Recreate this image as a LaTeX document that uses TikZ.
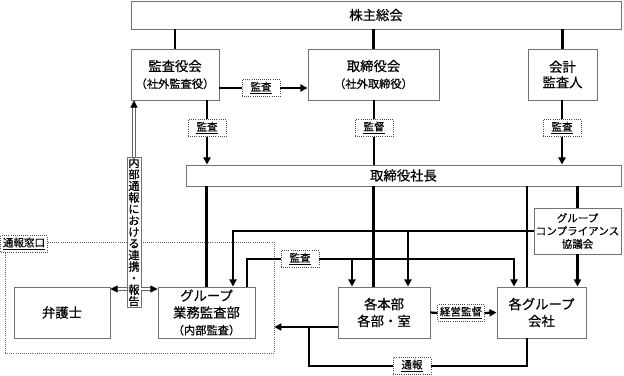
\documentclass[tikz,border=0pt]{standalone}
\usepackage{fontspec}
\newfontfamily\jp[FakeBold=0.4]{Noto Sans CJK JP}
\usetikzlibrary{arrows.meta, calc}
\newcommand{\px}{0.025cm}
\newcommand{\subtxt}{\fontsize{8}{10}\selectfont}
\tikzset{
  box/.style={draw=black!55, line width=0.7pt, fill=white, inner sep=0pt, align=center,
    font=\jp\fontsize{9.5}{12}\selectfont},
  tag/.style={draw=black!70, densely dotted, line width=0.5pt, fill=white, inner xsep=1.5pt,
    inner ysep=1.5pt, minimum width=27pt, font=\jp\fontsize{7.5}{9}\selectfont},
  link/.style={line width=1.6pt},
  arr/.style={link, -{Triangle[length=5pt,width=5pt]}},
  dbl/.style={draw=black!60, double=white, double distance=1.6pt, line width=0.5pt},
  dtip/.style={line width=0.4pt, -{Triangle[length=5pt,width=5pt]}},
}

\begin{document}
\begin{tikzpicture}[x=\px, y=-\px]
  \useasboundingbox (0,0) rectangle (624,375);

  % Reporting desk
  \node[draw=black!60, densely dotted, line width=0.5pt, inner sep=0pt,
    minimum width=269*\px, minimum height=111*\px] (madoguchi) at (139.5,297.5) {};
  \node[tag] (t8) at (24,244) {\underline{通報窓口}};

  % Boxes
  \node[box, minimum width=490*\px, minimum height=28*\px] (soukai) at (376,15) {株主総会};
  \node[box, minimum width=88*\px, minimum height=51*\px] (kansayaku) at (175,74.5) {監査役会\\\subtxt （社外監査役）};
  \node[box, minimum width=131*\px, minimum height=51*\px] (torishimari) at (373.5,74.5) {取締役会\\\subtxt （社外取締役）};
  \node[box, minimum width=69*\px, minimum height=51*\px, font=\jp\fontsize{9.5}{11}\selectfont] (kaikei) at (562.5,74.5) {会計\\監査人};
  \node[box, minimum width=435*\px, minimum height=21*\px] (shacho) at (403.5,175.5) {取締役社長};
  \node[box, minimum width=87*\px, minimum height=46*\px, font=\jp\fontsize{7.5}{9.2}\selectfont] (compliance) at (577.5,231) {グループ\\コンプライアンス\\協議会};
  \node[box, minimum width=97*\px, minimum height=51*\px] (gyomu) at (206.5,312.5) {グループ\\業務監査部\\\subtxt （内部監査）};
  \node[box, minimum width=96*\px, minimum height=51*\px] (bengoshi) at (62,312.5) {弁護士};
  \node[box, minimum width=92*\px, minimum height=51*\px] (honbu) at (384,312.5) {各本部\\各部・室};
  \node[box, minimum width=89*\px, minimum height=51*\px] (group) at (541.5,312.5) {各グループ\\会社};
  \node[box, minimum width=14*\px, minimum height=150*\px, font=\jp\fontsize{8}{8.2}\selectfont] (naibu) at (134,232)
    {内\\部\\通\\報\\に\\お\\け\\る\\連\\携\\・\\報\\告};

  % Labels
  \node[tag] (t1) at (261,88) {\underline{監査}};
  \node[tag] (t2) at (207,128) {\underline{監査}};
  \node[tag] (t3) at (374,128) {\underline{監督}};
  \node[tag] (t4) at (562,128) {\underline{監査}};
  \node[tag] (t5) at (300,259) {\underline{監査}};
  \node[tag] (t6) at (461,313) {\underline{経営監督}};
  \node[tag] (t7) at (412,366) {\underline{通報}};

  % From the general meeting
  \draw[link] (soukai.south -| kansayaku) -- (kansayaku.north);
  \draw[link] (soukai.south -| torishimari) -- (torishimari.north);
  \draw[link] (soukai.south -| kaikei) -- (kaikei.north);

  % Audit and supervision
  \draw[link] (kansayaku.east |- t1) -- (t1.west);
  \draw[arr] (t1.east) -- (torishimari.west |- t1);
  \draw[link] (kansayaku.south -| t2) -- (t2.north);
  \draw[arr] (t2.south) -- (shacho.north -| t2);
  \draw[link] (torishimari.south -| t3) -- (t3.north);
  \draw[link] (t3.south) -- (shacho.north -| t3);
  \draw[link] (kaikei.south -| t4) -- (t4.north);
  \draw[arr] (t4.south) -- (shacho.north -| t4);

  % From the president
  \coordinate (gx) at (527,0);
  \draw[link] (shacho.south -| gyomu) -- (gyomu.north);
  \draw[link] (shacho.south -| torishimari) -- (honbu.north -| torishimari);
  \draw[link] (shacho.south -| gx) -- (group.north -| gx);
  \draw[link] (shacho.south -| compliance) -- (compliance.north);
  \draw[arr] (compliance.south) -- (group.north -| compliance);

  % Compliance council
  \coordinate (ca) at (233,231);
  \coordinate (cb) at (408,231);
  \draw[arr] (compliance.west) -- (ca) -- (gyomu.north -| ca);
  \draw[arr] (cb) -- (honbu.north -| cb);

  % Internal audit
  \coordinate (ga) at (247,259);
  \coordinate (gb) at (514,259);
  \coordinate (gc) at (352,259);
  \draw[link] (gyomu.north -| ga) -- (ga) -- (t5.west);
  \draw[arr] (t5.east) -- (gb) -- (group.north -| gb);
  \draw[arr] (gc) -- (honbu.north -| gc);

  % Management supervision
  \draw[link] (honbu.east) -- (t6.west);
  \draw[arr] (t6.east) -- (group.west);

  % Reports
  \coordinate (tj) at (309,327);
  \draw[arr] (honbu.west |- tj) -- (madoguchi.east |- tj);
  \draw[link] (group.south -| gx) -- (gx |- t7) -- (t7.east);
  \draw[link] (t7.west) -- (tj |- t7) -- (tj);

  % Whistleblowing liaison
  \coordinate (dy) at (0,289);
  \coordinate (kn) at (kansayaku.south -| naibu);
  \coordinate (nl) at (naibu.west |- dy);
  \coordinate (nr) at (naibu.east |- dy);
  \coordinate (bl) at (bengoshi.east |- dy);
  \coordinate (gr) at (gyomu.west |- dy);
  \draw[dbl, shorten >=4pt] (naibu.north) -- (kn);
  \draw[dtip] ($(kn)+(0,6)$) -- (kn);
  \draw[dbl, shorten >=4pt] (nl) -- (bl);
  \draw[dtip] ($(bl)+(6,0)$) -- (bl);
  \draw[dbl, shorten >=4pt] (nr) -- (gr);
  \draw[dtip] ($(gr)+(-6,0)$) -- (gr);
\end{tikzpicture}
\end{document}
